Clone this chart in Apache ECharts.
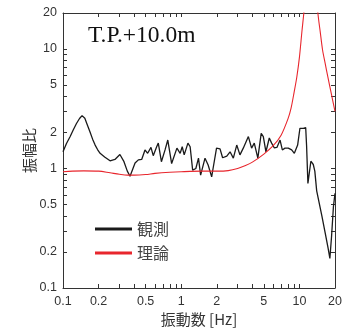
<!DOCTYPE html>
<html>
<head>
<meta charset="utf-8">
<script src="https://cdn.jsdelivr.net/npm/echarts@6/dist/echarts.min.js"></script>
<style>
  html, body { margin: 0; padding: 0; background: #fff; }
  #container { width: 342px; height: 328px; }
</style>
</head>
<body>
<div id="container"></div>
<script>
// observed (観測) spectral ratio
const obsFreq = [0.1, 0.107, 0.115, 0.122, 0.13, 0.138, 0.145, 0.153, 0.161, 0.169, 0.178, 0.187, 0.196, 0.206,
  0.225, 0.25, 0.275, 0.303, 0.328, 0.35, 0.369, 0.407, 0.434, 0.463, 0.494, 0.52, 0.555, 0.58, 0.62, 0.64,
  0.68, 0.73, 0.77, 0.83, 0.92, 0.98, 1.02, 1.06, 1.14, 1.19, 1.25, 1.33, 1.4, 1.46, 1.59, 1.69, 1.81, 1.86,
  1.99, 2.13, 2.24, 2.43, 2.59, 2.76, 2.95, 3.14, 3.35, 3.7, 3.94, 4.15, 4.45, 4.75, 4.95, 5.21, 5.56, 5.82,
  6.12, 6.45, 6.86, 7.17, 7.55, 8.05, 8.6, 9.06, 9.66, 10.1, 10.8, 11.3, 11.5, 11.8, 12.5, 13.1, 13.5, 14.0,
  15.5, 16.5, 17.5, 18.1, 18.7, 19.4, 20];
const obsAmp = [1.38, 1.62, 1.85, 2.1, 2.38, 2.62, 2.77, 2.63, 2.3, 2.03, 1.76, 1.57, 1.44, 1.34,
  1.25, 1.16, 1.19, 1.31, 1.14, 0.95, 0.86, 1.11, 1.18, 1.19, 1.43, 1.34, 1.5, 1.28, 1.52, 1.63,
  1.14, 1.43, 1.73, 1.1, 1.48, 1.34, 1.52, 1.3, 1.63, 1.52, 0.97, 1.0, 1.22, 0.88, 1.22, 1.07, 0.85, 1.0,
  1.48, 1.46, 1.23, 1.27, 1.38, 1.22, 1.57, 1.3, 1.48, 1.85, 1.48, 1.63, 1.22, 1.97, 1.85, 1.38, 1.8, 1.63,
  1.49, 1.5, 1.73, 1.43, 1.48, 1.48, 1.43, 1.34, 1.57, 2.17, 2.17, 2.2, 1.55, 0.75, 1.15, 1.08, 0.95, 0.65,
  0.4, 0.29, 0.215, 0.177, 0.27, 0.48, 0.62];

// theoretical (理論) transfer function
const theoFreq = [0.1, 0.12, 0.15, 0.2, 0.25, 0.3, 0.35, 0.4, 0.5, 0.6, 0.8, 1.0, 1.5, 2.0, 2.5, 3.0, 3.5,
  4.0, 5.0, 6.0, 7.0, 8.0, 8.5, 9.0, 9.5, 10.0, 10.5, 11.0, 11.5, 12.0, 12.5, 13.0, 13.5, 14.0, 14.5, 15.0,
  15.7, 16.5, 17.4, 18.5, 20];
const theoAmp = [0.94, 0.95, 0.955, 0.95, 0.92, 0.895, 0.88, 0.88, 0.89, 0.91, 0.93, 0.94, 0.95, 0.95, 0.96,
  1.0, 1.06, 1.13, 1.32, 1.55, 1.9, 2.6, 3.2, 4.3, 5.8, 8.5, 14, 22, 40, 80, 100, 70, 40, 25, 18, 13.9,
  9.8, 7.6, 5.83, 4.35, 3.0];

const tickValues = [0.1, 0.2, 0.3, 0.4, 0.5, 0.6, 0.7, 0.8, 0.9, 1, 2, 3, 4, 5, 6, 7, 8, 9, 10, 20];
const labelValues = [0.1, 0.2, 0.5, 1, 2, 5, 10, 20];

const lo = Math.log10(0.1);
const hi = Math.log10(20);

function toLog(freq, amp) {
  return freq.map((f, i) => [Math.log10(f), Math.log10(amp[i])]);
}

function fmt(v) {
  return String(parseFloat(Math.pow(10, v).toPrecision(3)));
}

function logAxis(position, showLabels, margin) {
  return {
    type: "value",
    position: position,
    min: lo,
    max: hi,
    axisLine: { show: true, onZero: false, lineStyle: { color: "#333", width: 1 } },
    axisTick: {
      show: true,
      inside: true,
      length: 4,
      customValues: tickValues.map((v) => Math.log10(v)),
      lineStyle: { color: "#333", width: 1 },
    },
    axisLabel: {
      show: showLabels,
      customValues: labelValues.map((v) => Math.log10(v)),
      formatter: fmt,
      color: "#333",
      fontSize: 12.5,
      fontFamily: "Liberation Sans, Arial, sans-serif",
      margin: margin || 6,
    },
    splitLine: { show: false },
  };
}

const chart = echarts.init(document.getElementById("container"), null, { renderer: "canvas" });

const xBottom = logAxis("bottom", true, 7);
xBottom.name = "振動数 [Hz]";
xBottom.nameLocation = "middle";
xBottom.nameGap = 24;
xBottom.nameMoveOverlap = false;
xBottom.nameTextStyle = { fontSize: 15, color: "#333", fontFamily: "Noto Sans CJK JP" };

const yLeft = logAxis("left", true, 6);
yLeft.name = "振幅比";
yLeft.nameLocation = "middle";
yLeft.nameRotate = 90;
yLeft.nameGap = 26;
yLeft.nameMoveOverlap = false;
yLeft.nameTextStyle = { fontSize: 15, color: "#333", fontFamily: "Noto Sans CJK JP" };

chart.setOption({
  animation: false,
  title: {
    text: "T.P.+10.0m",
    left: 88,
    top: 24,
    padding: 0,
    textStyle: {
      fontFamily: "Liberation Serif, Times New Roman, serif",
      fontWeight: "normal",
      fontSize: 23.5,
      color: "#111",
    },
  },
  grid: { left: 63, right: 7, top: 13, bottom: 40, containLabel: false, outerBoundsMode: "none" },
  xAxis: [xBottom, logAxis("top", false)],
  yAxis: [yLeft, logAxis("right", false)],
  legend: {
    orient: "vertical",
    left: 90,
    top: 216,
    icon: "rect",
    itemWidth: 37,
    itemHeight: 3,
    itemGap: 8,
    textStyle: { fontSize: 16, lineHeight: 16, color: "#444", fontFamily: "Noto Sans CJK JP" },
    data: ["観測", "理論"],
  },
  series: [
    {
      name: "観測",
      type: "line",
      xAxisIndex: 0,
      yAxisIndex: 0,
      data: toLog(obsFreq, obsAmp),
      showSymbol: false,
      symbol: "none",
      color: "#1a1a1a",
      lineStyle: { color: "#1a1a1a", width: 1.3 },
    },
    {
      name: "理論",
      type: "line",
      xAxisIndex: 0,
      yAxisIndex: 0,
      data: toLog(theoFreq, theoAmp),
      smooth: 0.3,
      showSymbol: false,
      symbol: "none",
      color: "#e8262d",
      lineStyle: { color: "#e8262d", width: 1.1 },
    },
  ],
});

window.addEventListener("resize", chart.resize);
</script>
</body>
</html>
